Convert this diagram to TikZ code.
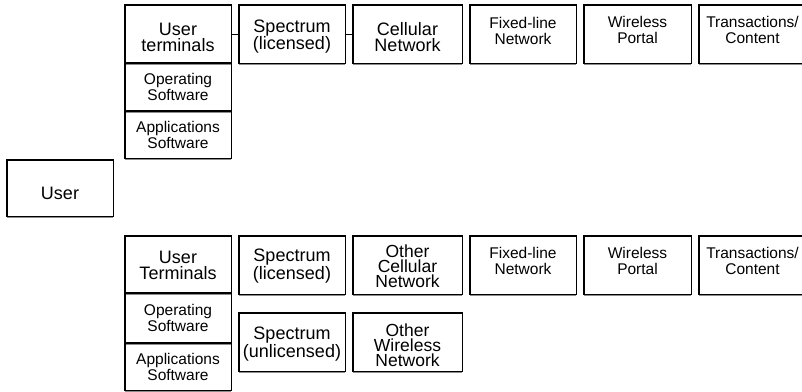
\documentclass[tikz,border=0pt]{standalone}
\usepackage{fontspec}
\setmainfont{Liberation Sans}
\tikzset{
  boxshape/.style={draw=black, line width=0.9pt, inner sep=0pt, outer sep=0pt, rectangle},
  bigtxt/.style={font=\fontsize{18}{16}\selectfont, align=center, inner sep=0pt},
  tighttxt/.style={font=\fontsize{17.5}{15}\selectfont, align=center, inner sep=0pt},
  smalltxt/.style={font=\fontsize{15.5}{16}\selectfont, align=center, inner sep=0pt},
  thickedge/.style={draw=black, line width=2pt, line cap=rect},
  shadowedge/.style={draw=black!45, line width=1pt},
  conn/.style={draw=black, line width=0.9pt},
}
\newcommand\mkbox[8]{%
  \node[boxshape, minimum width=#4pt-#2pt, minimum height=#5pt-#3pt] (#1) at ({(#2+#4)/2},{(#3+#5)/2}) {};
  \draw[shadowedge] ([yshift=-1.2pt]#1.south west) -- ([yshift=-1.2pt]#1.south east);
  \draw[thickedge] ([yshift=0.5pt]#1.south west) -- (#1.north west) -- ([xshift=-0.5pt]#1.north east);
  \node[#6] (#1t) at ([yshift=#7]#1.center) {#8};
}
\begin{document}
\begin{tikzpicture}[x=1pt,y=-1pt]
\useasboundingbox (0,0) rectangle (802,391);
% top group
\mkbox{uta}{125}{5}{231}{63}{bigtxt}{-3pt}{User\\terminals}
\mkbox{osa}{125}{63}{231}{111}{smalltxt}{0pt}{Operating\\Software}
\mkbox{asa}{125}{111}{231}{158}{smalltxt}{0pt}{Applications\\Software}
\mkbox{sla}{239}{5}{345}{63}{bigtxt}{-2.5pt}{Spectrum\\(licensed)}
\mkbox{cna}{353}{5}{462}{63}{bigtxt}{-3pt}{Cellular\\Network}
\mkbox{fla}{470}{5}{576}{63}{smalltxt}{3.5pt}{Fixed-line\\Network}
\mkbox{wpa}{584}{5}{691}{63}{smalltxt}{4pt}{Wireless\\Portal}
\mkbox{tca}{699}{5}{806}{63}{smalltxt}{4pt}{Transactions/\\Content}
\draw[conn] (uta.east) -- (sla.west);
\draw[conn] (sla.east) -- (cna.west);
% user
\mkbox{user}{7}{160}{113}{216}{bigtxt}{-5pt}{User}
% bottom group
\mkbox{utb}{125}{236}{231}{293}{bigtxt}{-1pt}{User\\Terminals}
\mkbox{osb}{125}{293}{231}{343}{smalltxt}{0pt}{Operating\\Software}
\mkbox{asb}{125}{343}{231}{390}{smalltxt}{0pt}{Applications\\Software}
\mkbox{slb}{239}{236}{345}{294}{bigtxt}{-1pt}{Spectrum\\(licensed)}
\mkbox{ocb}{353}{236}{462}{294}{tighttxt}{-1pt}{Other\\Cellular\\Network}
\mkbox{flb}{470}{236}{576}{294}{smalltxt}{4pt}{Fixed-line\\Network}
\mkbox{wpb}{584}{236}{691}{294}{smalltxt}{4pt}{Wireless\\Portal}
\mkbox{tcb}{699}{236}{806}{294}{smalltxt}{4pt}{Transactions/\\Content}
\mkbox{sub}{239}{313}{345}{371}{bigtxt}{-2pt}{Spectrum\\(unlicensed)}
\mkbox{owb}{353}{313}{462}{371}{tighttxt}{-3pt}{Other\\Wireless\\Network}
\end{tikzpicture}
\end{document}
